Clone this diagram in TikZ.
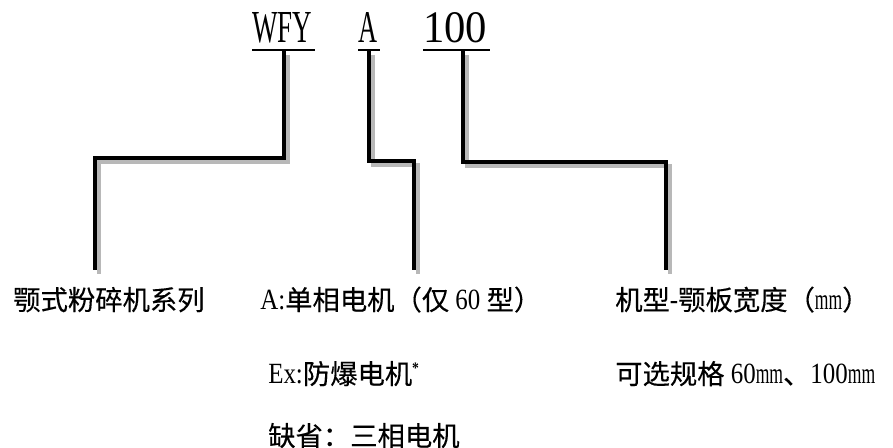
\documentclass[tikz,border=0pt]{standalone}
\usepackage{fontspec}
\setmainfont{Liberation Serif}
\newfontfamily\cjk[FakeBold=0.3]{Noto Sans CJK SC}
\newfontfamily\lat[FakeStretch=0.85]{Liberation Serif}
\newfontfamily\latm[FakeStretch=0.6]{Liberation Serif}
\newcommand\latsize{\fontsize{22pt}{24pt}\selectfont}
\usetikzlibrary{calc}
\begin{document}
\begin{tikzpicture}[x=0.75pt,y=-0.75pt,
  title/.style={inner sep=0pt, anchor=base west},
  lbl/.style={inner sep=0pt, anchor=base west, font=\fontsize{20.5pt}{24pt}\selectfont},
  uline/.style={line width=1.1pt, black},
  conn/.style={line width=3pt, black, line join=miter},
  shadow/.style={line width=3pt, black!28, line join=miter, transform canvas={xshift=3pt,yshift=-3pt}},
]
\useasboundingbox (0,0) rectangle (893,448);
% title parts
\node[title] (t1) at (252,43) {\resizebox{45pt}{22.5pt}{WFY}};
\node[title] (t2) at (358,43) {\resizebox{14.25pt}{22.5pt}{A}};
\node[title] (t3) at (423,43) {\resizebox{48pt}{22.5pt}{100}};
\foreach \t in {t1,t2,t3}{
  \draw[uline] ($(\t.base west)+(0,7)$) -- ($(\t.base east)+(2,7)$);
}
% labels
\node[lbl] (l1) at (13,310) {\cjk 颚式粉碎机系列};
\node[lbl] (l2) at (260,310) {{\lat\latsize A:}{\cjk 单相电机（仅}{\lat\latsize\ 60\ }{\cjk 型）}};
\node[lbl] (l3) at (268,384) {{\lat\latsize Ex:}{\cjk 防爆电机}{\lat\raisebox{0.4em}{\fontsize{12pt}{12pt}\selectfont\bfseries *}}};
\node[lbl] (l4) at (268,446) {\cjk 缺省：三相电机};
\node[lbl] (l5) at (615,310) {{\cjk 机型}{\lat\latsize -}{\cjk 颚板宽度（}{\latm\latsize mm}{\cjk ）}};
\node[lbl] (l6) at (615,384) {{\cjk 可选规格}{\lat\latsize\ 60}{\latm\latsize mm}{\cjk 、}{\lat\latsize 100}{\latm\latsize mm}};
% bend and end points of connectors
\coordinate (k1) at (95,158);  \coordinate (e1) at (95,270);
\coordinate (k2) at (414,161); \coordinate (e2) at (414,270);
\coordinate (k3) at (666,162); \coordinate (e3) at (666,270);
\foreach \s in {shadow,conn}{
  \draw[\s] ($(t1.base)+(2,8)$) |- (k1) -- (e1);
  \draw[\s] ($(t2.base)+(1.5,8)$) |- (k2) -- (e2);
  \draw[\s] ($(t3.base)+(8,8)$) |- (k3) -- (e3);
}
\end{tikzpicture}
\end{document}
